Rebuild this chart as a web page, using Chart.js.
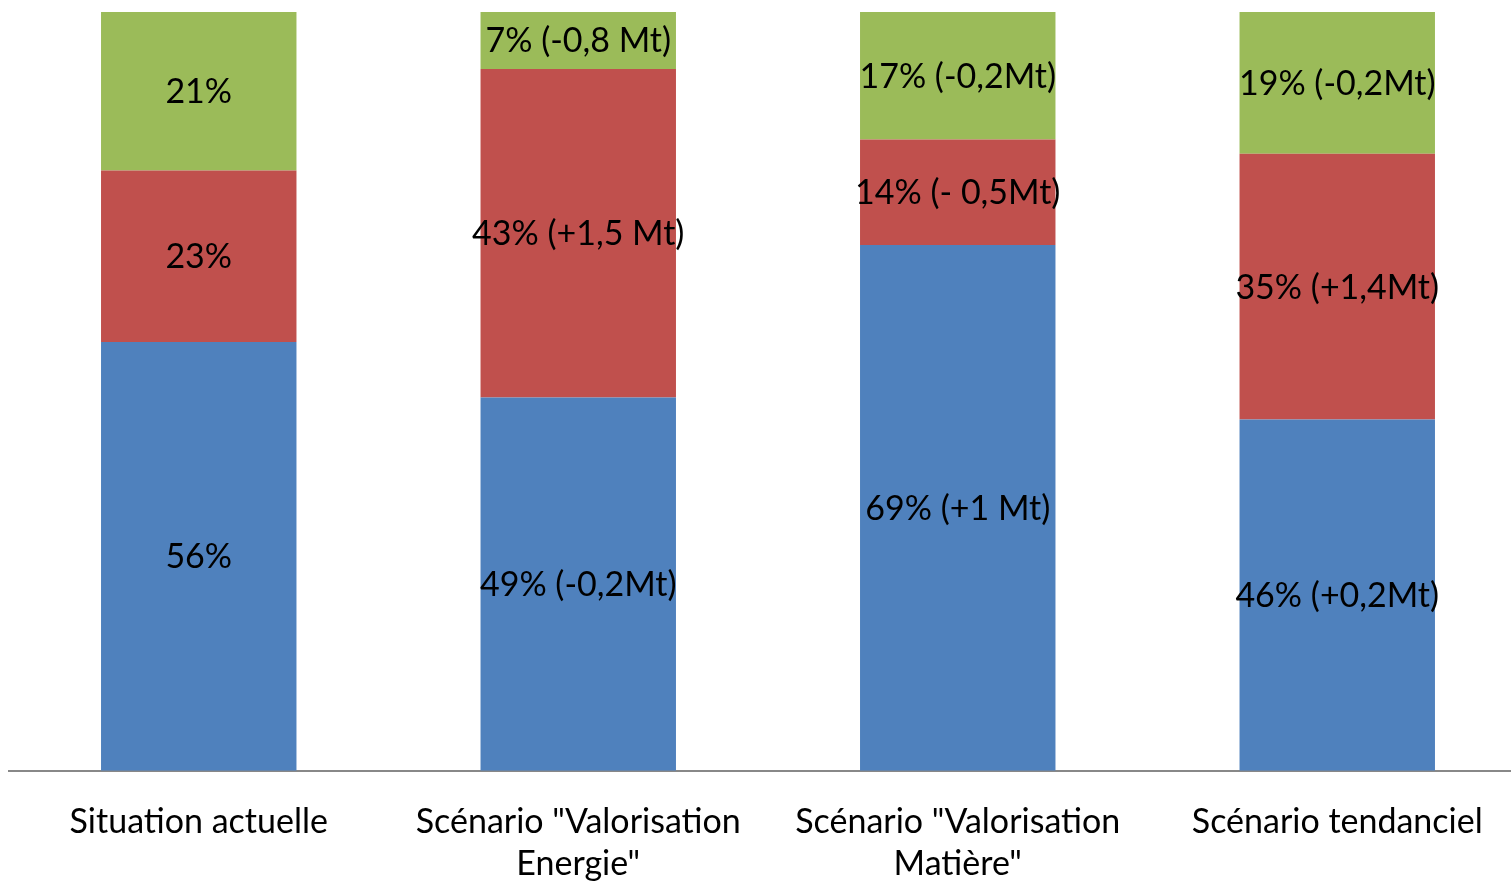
<!DOCTYPE html>
<html lang="fr">
<head>
  <meta charset="UTF-8" />
  <title>Scénarios</title>
  <script src="https://cdn.jsdelivr.net/npm/chart.js"></script>
  <style>
    html, body { margin: 0; padding: 0; background: #fff; overflow: hidden; }
    #wrap { width: 1527px; height: 907px; }
  </style>
</head>
<body>
  <div id="wrap"><canvas id="chart"></canvas></div>
  <script>
    const categories = [
      "Situation actuelle",
      ['Scénario "Valorisation', 'Energie"'],
      ['Scénario "Valorisation', 'Matière"'],
      "Scénario tendanciel"
    ];

    // segment heights (share of each bar, %)
    const blueValues = [56.5, 49.2, 69.3, 46.3];
    const redValues = [22.6, 43.3, 13.9, 35.0];
    const greenValues = [20.9, 7.5, 16.8, 18.7];

    // text printed inside each segment
    const blueLabels = ["56%", "49% (-0,2Mt)", "69% (+1 Mt)", "46% (+0,2Mt)"];
    const redLabels = ["23%", "43% (+1,5 Mt)", "14% (- 0,5Mt)", "35% (+1,4Mt)"];
    const greenLabels = ["21%", "7% (-0,8 Mt)", "17% (-0,2Mt)", "19% (-0,2Mt)"];

    const FONT = "Lato, 'Open Sans', sans-serif";

    // draw the segment texts in the middle of each bar piece
    const segmentText = {
      id: "segmentText",
      afterDatasetsDraw(chart) {
        const ctx = chart.ctx;
        ctx.save();
        ctx.font = "34px " + FONT;
        ctx.fillStyle = "#000";
        ctx.textAlign = "center";
        ctx.textBaseline = "middle";
        chart.data.datasets.forEach((ds, i) => {
          chart.getDatasetMeta(i).data.forEach((bar, j) => {
            const mid = (bar.y + bar.base) / 2;
            ctx.fillText(ds.texts[j], bar.x, mid + 1);
          });
        });
        ctx.restore();
      }
    };

    new Chart(document.getElementById("chart"), {
      type: "bar",
      data: {
        labels: categories,
        datasets: [
          { label: "blue", data: blueValues, texts: blueLabels, backgroundColor: "#4F81BD" },
          { label: "red", data: redValues, texts: redLabels, backgroundColor: "#C0504D" },
          { label: "green", data: greenValues, texts: greenLabels, backgroundColor: "#9BBB59" }
        ]
      },
      options: {
        responsive: true,
        maintainAspectRatio: false,
        animation: false,
        layout: { padding: { left: 9, top: 12, right: 0, bottom: 0 } },
        datasets: { bar: { categoryPercentage: 1, barPercentage: 0.515 } },
        plugins: {
          legend: { display: false },
          tooltip: { enabled: false }
        },
        scales: {
          x: {
            stacked: true,
            grid: { display: false },
            border: { color: "#888", width: 2 },
            ticks: {
              color: "#000",
              padding: 22,
              maxRotation: 0,
              font: { family: FONT, size: 34, lineHeight: 1.24 }
            }
          },
          y: {
            stacked: true,
            display: false,
            min: 0,
            max: 100
          }
        }
      },
      plugins: [segmentText]
    });
  </script>
</body>
</html>
